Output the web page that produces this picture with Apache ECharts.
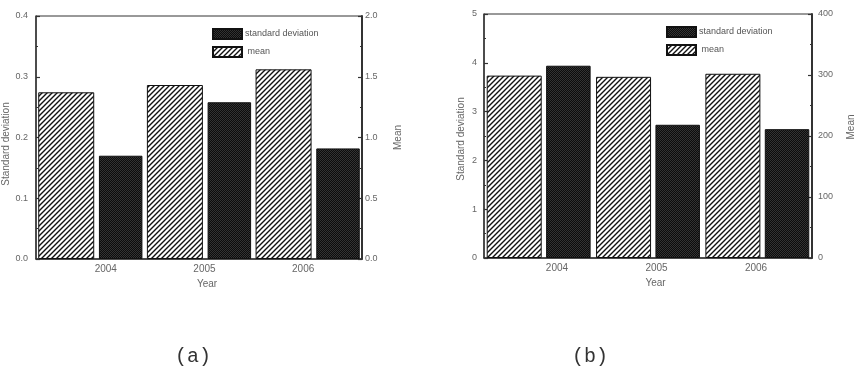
<!DOCTYPE html>
<html><head><meta charset="utf-8">
<script src="https://cdn.jsdelivr.net/npm/echarts@6/dist/echarts.min.js"></script>
<style>html,body{margin:0;padding:0;background:#fff}#c{width:857px;height:375px}</style>
</head><body><div id="c"></div>
<script>
const years = ['2004', '2005', '2006'];
const yearTicks = [2004, 2005, 2006];
const stdA = [0.170, 0.258, 0.182];
const meanA = [1.372, 1.432, 1.561];
const stdB = [3.94, 2.73, 2.64];
const meanB = [299, 297, 302];
const captions = ['(a)', '(b)'];
const legendNames = ['standard deviation', 'mean'];

function hatch() {
  const s = 5;
  const c = document.createElement('canvas'); c.width = s; c.height = s;
  const g = c.getContext('2d');
  g.fillStyle = '#fff'; g.fillRect(0, 0, s, s);
  g.strokeStyle = '#111'; g.lineWidth = 1.4;
  g.beginPath();
  g.moveTo(-1, s + 1); g.lineTo(s + 1, -1);
  g.moveTo(-1, 1); g.lineTo(1, -1);
  g.moveTo(s - 1, s + 1); g.lineTo(s + 1, s - 1);
  g.stroke();
  return c;
}
function dots() {
  const c = document.createElement('canvas'); c.width = 2; c.height = 2;
  const g = c.getContext('2d');
  g.fillStyle = '#0c0c0c'; g.fillRect(0, 0, 2, 2);
  g.fillStyle = '#333'; g.fillRect(0, 0, 1, 1); g.fillRect(1, 1, 1, 1);
  return c;
}
const hatchFill = { image: hatch(), repeat: 'repeat' };
const dotFill = { image: dots(), repeat: 'repeat' };

const txt = '#666';
const axisCol = '#333';

function catAxis(gi) {
  return { type: 'category', gridIndex: gi, data: years, position: 'bottom',
    axisLine: { show: true, lineStyle: { color: axisCol, width: 1.5 } },
    axisTick: { show: false }, axisLabel: { show: false }, splitLine: { show: false } };
}
function labelAxis(gi, min, max, pad) {
  return { type: 'value', gridIndex: gi, position: 'bottom', min: min, max: max,
    axisLine: { show: false }, axisTick: { show: false }, splitLine: { show: false },
    axisLabel: { customValues: yearTicks, margin: 5, fontSize: 10, color: txt,
      formatter: function (v) { return String(Math.round(v)); } },
    name: 'Year', nameLocation: 'middle', nameGap: 19,
    nameTextStyle: { fontSize: 10, color: txt, padding: [0, 0, 0, pad] } };
}
function yAx(gi, pos, max, interval, dec, name, gap, margin, padding, lw) {
  return { type: 'value', gridIndex: gi, position: pos, min: 0, max: max, interval: interval,
    axisLine: { show: true, lineStyle: { color: axisCol, width: lw } },
    axisTick: { show: true, inside: true, length: 4, lineStyle: { color: axisCol, width: 1.2 } },
    minorTick: { show: true, splitNumber: 2, length: 2, lineStyle: { color: axisCol, width: 1 } },
    splitLine: { show: false },
    axisLabel: { margin: margin, fontSize: 9, color: txt,
      formatter: function (v) { return v.toFixed(dec); } },
    name: name, nameLocation: 'middle', nameRotate: 90, nameGap: gap,
    nameTextStyle: { fontSize: 10, color: txt, padding: padding } };
}
function barPair(xi, yl, yr, mean, std, wMean, wStd, gap) {
  return [
    { type: 'bar', name: 'mean', xAxisIndex: xi, yAxisIndex: yr, data: mean,
      barWidth: wMean, barGap: gap,
      itemStyle: { color: hatchFill, borderColor: '#111', borderWidth: 1 } },
    { type: 'bar', name: 'standard deviation', xAxisIndex: xi, yAxisIndex: yl, data: std,
      barWidth: wStd, barGap: gap,
      itemStyle: { color: dotFill, borderColor: '#111', borderWidth: 1 } }
  ];
}
function legend(left, top) {
  return { left: left, top: top, padding: 0, orient: 'vertical', itemWidth: 29, itemHeight: 10, itemGap: 6,
    icon: 'rect', selectedMode: false, data: legendNames,
    textStyle: { fontSize: 9, color: '#555', padding: [0, 0, 0, -2] },
    formatter: function (n) { return n === 'mean' ? ' mean' : n; } };
}

const chart = echarts.init(document.getElementById('c'), null, { renderer: 'canvas' });
chart.setOption({
  animation: false,
  textStyle: { fontFamily: 'Liberation Sans' },
  title: [
    { text: captions[0], left: 175, top: 347, padding: 0, textStyle: { fontFamily: 'Liberation Mono', fontSize: 20, fontWeight: 'normal', color: '#333' } },
    { text: captions[1], left: 572, top: 347, padding: 0, textStyle: { fontFamily: 'Liberation Mono', fontSize: 20, fontWeight: 'normal', color: '#333' } }
  ],
  legend: [legend(212, 28), legend(666, 26)],
  grid: [
    { left: 35, top: 16, width: 327, height: 243, show: true, borderColor: axisCol, borderWidth: 1, backgroundColor: 'transparent' },
    { left: 484, top: 14, width: 330, height: 244, show: true, borderColor: axisCol, borderWidth: 1, backgroundColor: 'transparent' }
  ],
  xAxis: [
    catAxis(0), labelAxis(0, 2003.293, 2006.596, 16),
    catAxis(1), labelAxis(1, 2003.267, 2006.562, 15)
  ],
  yAxis: [
    yAx(0, 'left', 0.4, 0.1, 1, 'Standard deviation', 25, 8, [0, 13, 0, 0], 1.5),
    yAx(0, 'right', 2.0, 0.5, 1, 'Mean', 31, 3, [0, 0, 0, 0], 2),
    yAx(1, 'left', 5, 1, 0, 'Standard deviation', 18, 7, [0, 6, 0, 0], 1.5),
    yAx(1, 'right', 400, 100, 0, 'Mean', 34, 6, [0, 0, 0, 18], 2)
  ],
  series: [].concat(
    barPair(0, 0, 1, meanA, stdA, 56, 43.5, '8.4%'),
    barPair(2, 2, 3, meanB, stdB, 55, 44.5, '8%')
  )
});
</script></body></html>
